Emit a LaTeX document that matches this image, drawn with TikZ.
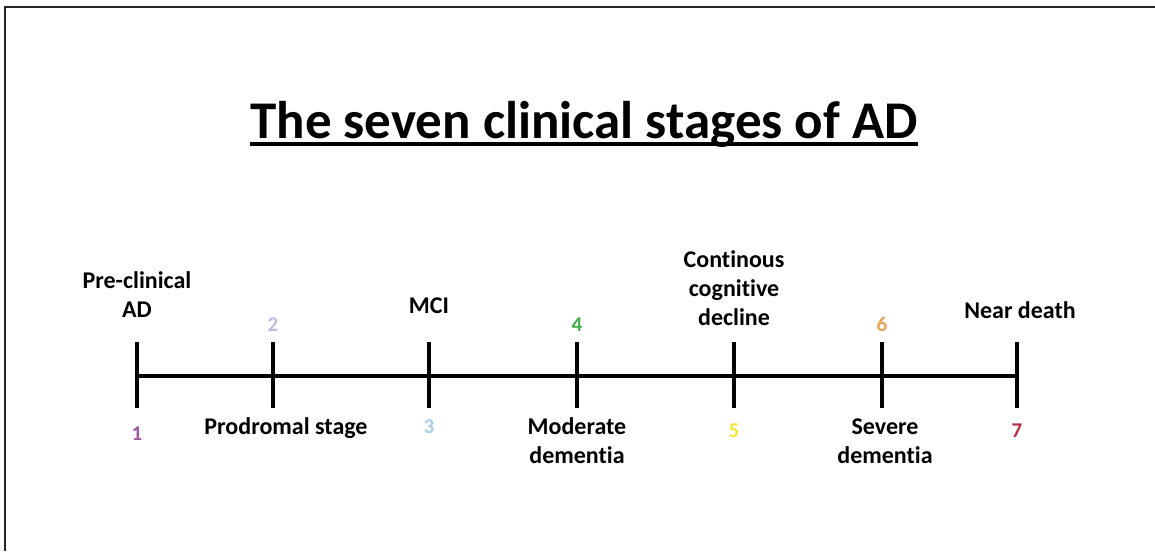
\documentclass[tikz,border=0pt]{standalone}
\usepackage{fontspec}
\setmainfont{Carlito}[Ligatures=NoCommon]
\definecolor{c1}{HTML}{9C5B9E}
\definecolor{c2}{HTML}{BDBCD6}
\definecolor{c3}{HTML}{A9CDE2}
\definecolor{c4}{HTML}{3DAE4A}
\definecolor{c5}{HTML}{F2E63A}
\definecolor{c6}{HTML}{E9A456}
\definecolor{c7}{HTML}{B3303F}
\begin{document}
\begin{tikzpicture}[x=1pt,y=-1pt,
  lbl/.style={font=\bfseries\fontsize{24}{29}\selectfont, align=center, inner sep=0pt, anchor=base},
  num/.style={font=\bfseries\fontsize{21}{24}\selectfont, inner sep=0pt, anchor=base},
  tick/.style={line width=4pt},
  axis/.style={line width=4pt}]
\useasboundingbox (0,0) rectangle (1155,551);
\fill[white] (0,0) rectangle (1155,551);
\draw[line width=2pt, black!85] (4.5,551) -- (4.5,7.5) -- (1155,7.5);
% title
\node[font=\bfseries\fontsize{53}{60}\selectfont, inner sep=0pt, anchor=base] (title) at (584,138) {The seven clinical stages of AD};
\draw[line width=4pt] ([yshift=-6pt]title.base west) -- ([yshift=-6pt]title.base east);
% ticks
\foreach \n/\x in {1/137,2/273,3/429,4/577,5/734,6/882,7/1017}{
  \coordinate (t\n) at (\x,342);
  \coordinate (b\n) at (\x,408);
  \coordinate (m\n) at (\x,376);
  \draw[tick] (t\n) -- (b\n);
}
\draw[axis] (m1) -- (m7);
% labels above
\node[lbl] (l1) at (137,317) {Pre-clinical\\AD};
\node[num, text=c2] (n2) at (273,331) {2};
\node[lbl] (l3) at (429,313) {MCI};
\node[num, text=c4] (n4) at (577,331) {4};
\node[lbl] (l5) at (734,325) {Continous\\cognitive\\decline};
\node[num, text=c6] (n6) at (882,331) {6};
\node[lbl] (l7) at (1020,318) {Near death};
% labels below
\node[num, text=c1] (n1) at (137,440) {1};
\node[lbl] (l2) at (286,434) {Prodromal stage};
\node[num, text=c3] (n3) at (429,433) {3};
\node[lbl] (l4) at (577,463) {Moderate\\dementia};
\node[num, text=c5] (n5) at (734,437) {5};
\node[lbl] (l6) at (885,463) {Severe\\dementia};
\node[num, text=c7] (n7) at (1017,437) {7};
\end{tikzpicture}
\end{document}
